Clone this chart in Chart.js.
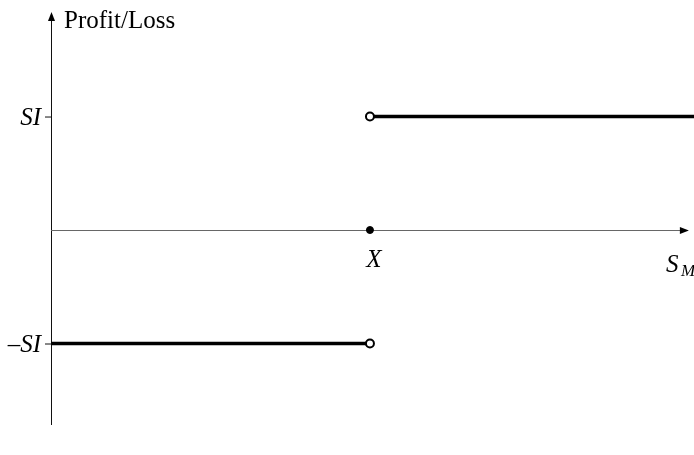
<!DOCTYPE html>
<html>
<head>
<meta charset="utf-8">
<script src="https://cdn.jsdelivr.net/npm/chart.js@4"></script>
<style>
  html, body { margin: 0; padding: 0; background: #fff; }
  #wrap { width: 694px; height: 455px; }
</style>
</head>
<body>
<div id="wrap"><canvas id="payoffChart"></canvas></div>
<script>
// payoff of a binary (cash-or-nothing) position, in units of SI
const lossX = [0, 1];
const lossY = [-1, -1];
const gainX = [1, 2.02];
const gainY = [1, 1];
const strikeX = [1];
const strikeY = [0];

const tickValues = [1, -1];
const tickLabels = ["SI", "–SI"];
const strikeLabel = "X";
const xAxisEnd = 2;

const toPoints = (xs, ys) => xs.map((x, i) => ({ x: x, y: ys[i] }));

const axesPlugin = {
  id: "axes",
  beforeDatasetsDraw(chart) {
    const c = chart.ctx;
    const xs = chart.scales.x;
    const ys = chart.scales.y;
    const x0 = xs.getPixelForValue(0);
    const y0 = ys.getPixelForValue(0);
    const top = chart.chartArea.top;
    const bottom = chart.chartArea.bottom;
    const xEnd = xs.getPixelForValue(xAxisEnd);

    c.save();
    // y axis
    c.strokeStyle = "#111";
    c.lineWidth = 1;
    c.beginPath();
    c.moveTo(x0 + 0.5, bottom);
    c.lineTo(x0 + 0.5, top + 6);
    c.stroke();
    c.fillStyle = "#000";
    c.beginPath();
    c.moveTo(x0 + 0.5, top);
    c.lineTo(x0 - 3, top + 9);
    c.lineTo(x0 + 4, top + 9);
    c.closePath();
    c.fill();

    // x axis
    c.strokeStyle = "#666";
    c.beginPath();
    c.moveTo(x0, y0 + 0.5);
    c.lineTo(xEnd - 6, y0 + 0.5);
    c.stroke();
    c.fillStyle = "#000";
    c.beginPath();
    c.moveTo(xEnd, y0 + 0.5);
    c.lineTo(xEnd - 9, y0 - 3);
    c.lineTo(xEnd - 9, y0 + 4);
    c.closePath();
    c.fill();

    // tick marks and labels
    c.strokeStyle = "#111";
    c.fillStyle = "#000";
    c.font = "italic 25px 'Liberation Serif'";
    c.textAlign = "right";
    c.textBaseline = "alphabetic";
    tickValues.forEach((v, i) => {
      const py = ys.getPixelForValue(v);
      c.beginPath();
      c.moveTo(x0 - 6, py + 0.5);
      c.lineTo(x0, py + 0.5);
      c.stroke();
      c.fillText(tickLabels[i], x0 - 10, py + 8);
    });

    // strike label
    c.textAlign = "center";
    c.fillText(strikeLabel, xs.getPixelForValue(strikeX[0]) + 4, y0 + 37);

    // S_M label
    c.textAlign = "left";
    c.fillText("S", 666, y0 + 42);
    c.font = "italic 17px 'Liberation Serif'";
    c.fillText("M", 681, y0 + 46);

    // axis title
    c.font = "25px 'Liberation Serif'";
    c.fillText("Profit/Loss", x0 + 13, 28);
    c.restore();
  }
};

new Chart(document.getElementById("payoffChart"), {
  type: "line",

  data: {
    datasets: [
      {
        data: toPoints(lossX, lossY),
        borderColor: "#000",
        borderWidth: 3.5,
        pointRadius: [0, 4],
        pointBackgroundColor: "#fff",
        pointBorderColor: "#000",
        pointBorderWidth: 2,
        clip: false
      },
      {
        data: toPoints(gainX, gainY),
        borderColor: "#000",
        borderWidth: 3.5,
        pointRadius: [4, 0],
        pointBackgroundColor: "#fff",
        pointBorderColor: "#000",
        pointBorderWidth: 2,
        clip: false
      },
      {
        data: toPoints(strikeX, strikeY),
        showLine: false,
        pointRadius: 3.5,
        pointBackgroundColor: "#000",
        pointBorderColor: "#000",
        clip: false
      }
    ]
  },

  options: {
    responsive: true,
    maintainAspectRatio: false,
    animation: false,
    events: [],

    layout: {
      autoPadding: false,
      padding: { left: 51, right: 0, top: 12, bottom: 30 }
    },

    plugins: {
      legend: { display: false },
      tooltip: { enabled: false }
    },

    scales: {
      x: {
        type: "linear",
        display: false,
        min: 0,
        max: 2.016
      },

      y: {
        display: false,
        min: -1.718,
        max: 1.921
      }
    }
  },

  plugins: [axesPlugin]
});
</script>
</body>
</html>
